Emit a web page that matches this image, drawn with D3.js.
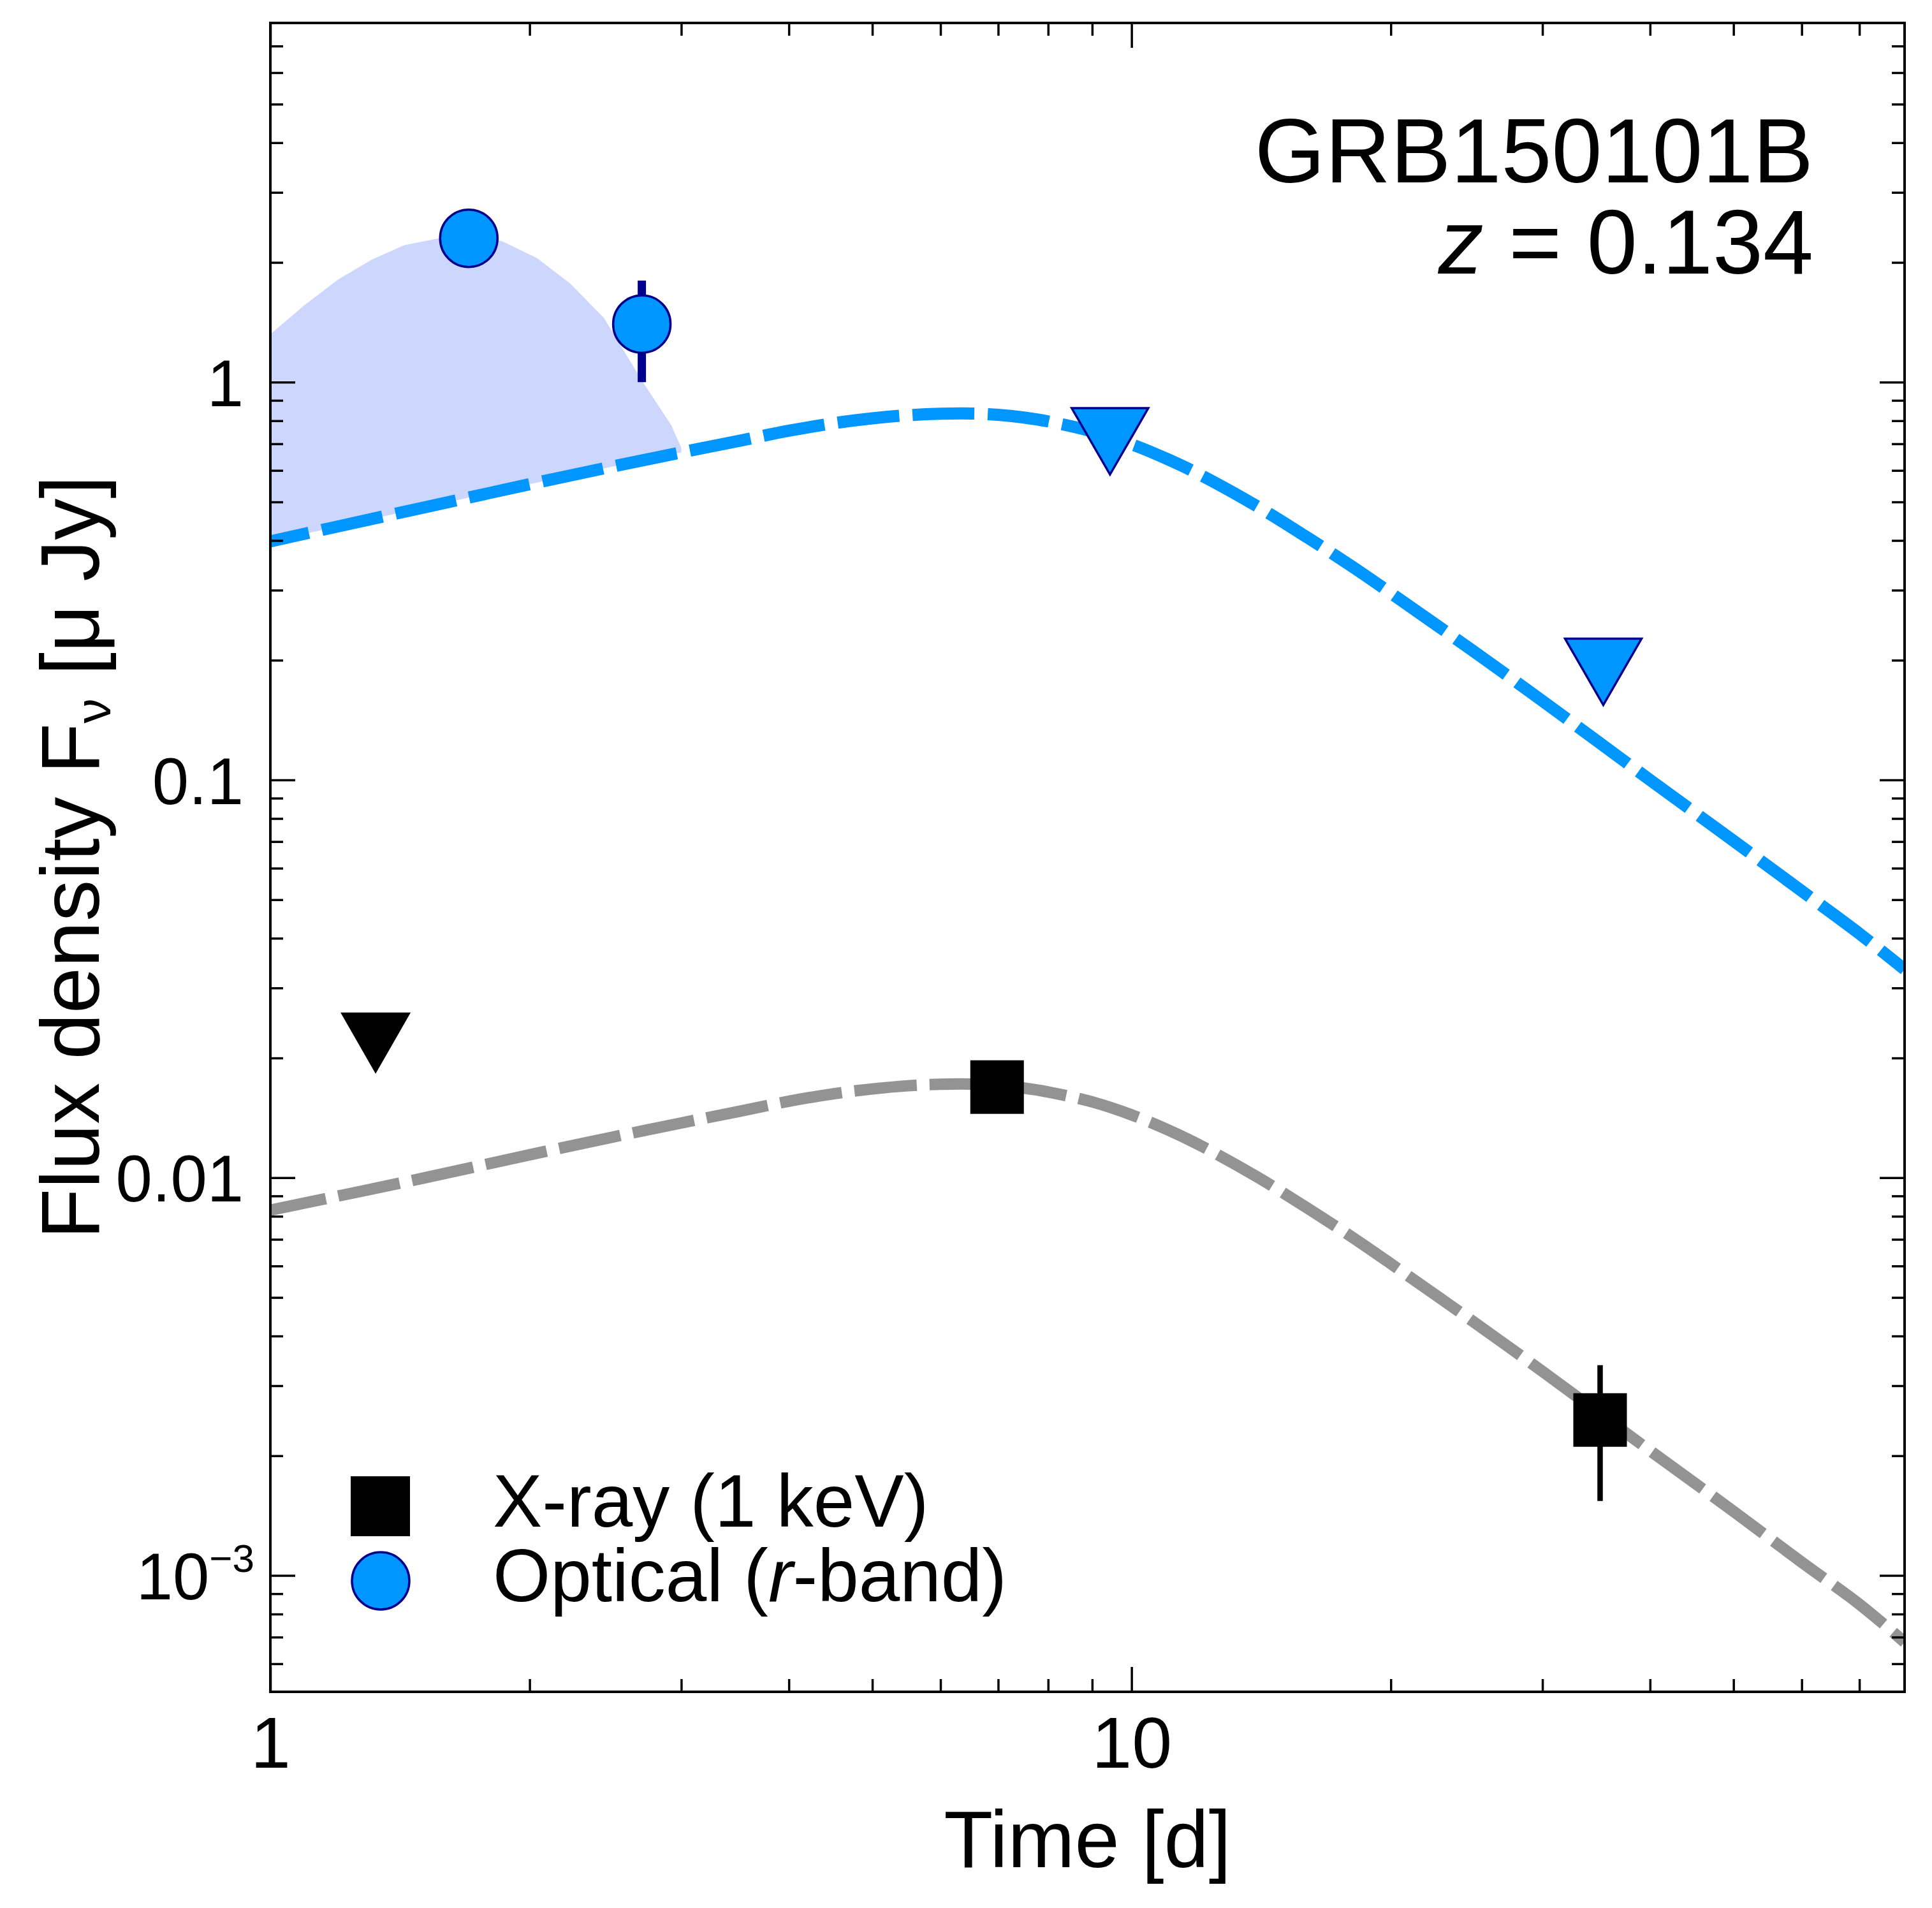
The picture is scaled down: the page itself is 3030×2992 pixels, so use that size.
<!DOCTYPE html>
<html lang="en">
<head>
<meta charset="utf-8">
<script src="https://cdn.jsdelivr.net/npm/d3@7"></script>
<style>
  body { margin: 0; background: #fff; }
  svg { display: block; }
  text { font-family: "Liberation Sans", Arial, Helvetica, sans-serif; fill: #000; }
</style>
</head>
<body>
<svg id="chart" width="3030" height="2992"></svg>
<script>
// model curves (smoothed by eye)
const blueT = [1, 1.5, 2, 2.5, 3, 3.5, 4, 4.5, 5, 5.5, 6, 6.5, 7, 7.5, 8, 9, 10, 11, 12, 14, 16, 18, 20, 25, 30, 40, 50, 60, 70, 79];
const blueF = [0.398, 0.483, 0.554, 0.614, 0.666, 0.712, 0.755, 0.788, 0.811, 0.826, 0.833, 0.834, 0.828, 0.815, 0.797,
  0.752, 0.698, 0.641, 0.586, 0.487, 0.407, 0.345, 0.295, 0.210, 0.158, 0.100, 0.0703, 0.0526, 0.0411, 0.0334];
const grayT = [1, 1.5, 2, 2.5, 3, 3.5, 4, 4.5, 5, 5.5, 6, 6.5, 7, 7.5, 8, 9, 10, 11, 12, 14, 16, 18, 20, 25, 30, 40, 50, 60, 70, 79];
const grayF = [0.00829, 0.00996, 0.01142, 0.01266, 0.01373, 0.01468, 0.01557, 0.01625, 0.01672, 0.01703, 0.01718, 0.01720,
  0.01707, 0.01680, 0.01643, 0.01551, 0.01439, 0.01322, 0.01208, 0.01004, 0.00839, 0.00711, 0.00608, 0.00433, 0.00326,
  0.00206, 0.00145, 0.00108, 0.000847, 0.00068];

// upper edge of the shaded optical region
const bandT = [1.0, 1.095, 1.198, 1.31, 1.43, 1.70, 1.86, 2.04, 2.23, 2.44, 2.70, 2.92, 3.0];
const bandF = [1.32, 1.56, 1.81, 2.03, 2.21, 2.38, 2.26, 2.05, 1.77, 1.45, 1.01, 0.78, 0.685];

// optical r-band
const optT = [1.70, 2.70];
const optF = [2.30, 1.40];
const optLo = [null, 1.00];
const optHi = [null, 1.80];
const optUlT = [9.44, 35.3];
const optUlF = [0.71, 0.187];

// X-ray 1 keV
const xrT = [6.98, 35.0];
const xrF = [0.0169, 0.00246];
const xrLo = [null, 0.00154];
const xrHi = [null, 0.00338];
const xrUlT = [1.325];
const xrUlF = [0.0218];

// axes
const xMajor = [1, 10];
const xMinor = [2, 3, 4, 5, 6, 7, 8, 9, 20, 30, 40, 50, 60, 70];
const yMajor = [1, 0.1, 0.01, 0.001];
const yMinor = [6e-4, 7e-4, 8e-4, 9e-4, 2e-3, 3e-3, 4e-3, 5e-3, 6e-3, 7e-3, 8e-3, 9e-3,
  0.02, 0.03, 0.04, 0.05, 0.06, 0.07, 0.08, 0.09, 0.2, 0.3, 0.4, 0.5, 0.6, 0.7, 0.8, 0.9,
  2, 3, 4, 5, 6, 7];

const L = 424, R = 2987, T = 36, B = 2653;
const svg = d3.select('#chart');
svg.append('rect').attr('width', 3030).attr('height', 2992).attr('fill', '#fff');

const x = d3.scaleLog().domain([1, 79]).range([L, R]);
const y = d3.scaleLog().domain([5.1e-4, 8]).range([B, T]);

svg.append('clipPath').attr('id', 'plotclip')
  .append('rect').attr('x', L).attr('y', T).attr('width', R - L).attr('height', B - T);

const plot = svg.append('g').attr('clip-path', 'url(#plotclip)');

// shaded region: upper edge then back along the model line
const bandPts = bandT.map((t, i) => [t, bandF[i]]);
blueT.map((t, i) => [t, blueF[i]]).filter(p => p[0] <= 3).reverse().forEach(p => bandPts.push(p));
plot.append('path')
  .attr('d', d3.line().x(p => x(p[0])).y(p => y(p[1]))(bandPts) + 'Z')
  .attr('fill', '#cdd6fd');

const curve = d3.line().x(p => x(p[0])).y(p => y(p[1])).curve(d3.curveCatmullRom);

plot.append('path')
  .attr('d', curve(grayT.map((t, i) => [t, grayF[i]])))
  .attr('fill', 'none').attr('stroke', '#939393').attr('stroke-width', 18)
  .attr('stroke-dasharray', '98,20').attr('stroke-dashoffset', 9);

plot.append('path')
  .attr('d', curve(blueT.map((t, i) => [t, blueF[i]])))
  .attr('fill', 'none').attr('stroke', '#0096ff').attr('stroke-width', 19)
  .attr('stroke-dasharray', '97,21').attr('stroke-dashoffset', 35);

// error bars
optT.forEach((t, i) => {
  if (optLo[i] === null) return;
  svg.append('line').attr('x1', x(t)).attr('x2', x(t))
    .attr('y1', y(optLo[i])).attr('y2', y(optHi[i]))
    .attr('stroke', '#00008c').attr('stroke-width', 13);
});
xrT.forEach((t, i) => {
  if (xrLo[i] === null) return;
  svg.append('line').attr('x1', x(t)).attr('x2', x(t))
    .attr('y1', y(xrLo[i])).attr('y2', y(xrHi[i]))
    .attr('stroke', '#000').attr('stroke-width', 8.5);
});

const tri = (w, h) => `M${-w / 2},${-h / 2}L${w / 2},${-h / 2}L0,${h / 2}Z`;

// upper limits
svg.selectAll('.xul').data(xrUlT).enter().append('path')
  .attr('transform', (t, i) => `translate(${x(t)},${y(xrUlF[i])})`)
  .attr('d', tri(110, 96)).attr('fill', '#000');
svg.selectAll('.oul').data(optUlT).enter().append('path')
  .attr('transform', (t, i) => `translate(${x(t)},${y(optUlF[i])})`)
  .attr('d', tri(120, 104)).attr('fill', '#0096ff')
  .attr('stroke', '#00008c').attr('stroke-width', 3.5).attr('stroke-linejoin', 'miter');

// detections
svg.selectAll('.xr').data(xrT).enter().append('rect')
  .attr('x', t => x(t) - 42).attr('y', (t, i) => y(xrF[i]) - 42)
  .attr('width', 84).attr('height', 84).attr('fill', '#000');
svg.selectAll('.opt').data(optT).enter().append('circle')
  .attr('cx', t => x(t)).attr('cy', (t, i) => y(optF[i])).attr('r', 45)
  .attr('fill', '#0096ff').attr('stroke', '#00008c').attr('stroke-width', 3.5);

// axes
const tickStyle = g => {
  g.select('.domain').remove();
  g.selectAll('.tick line').attr('stroke', '#000').attr('stroke-width', 3.5);
};

svg.append('g').attr('transform', `translate(0,${B})`)
  .call(d3.axisBottom(x).tickValues(xMajor).tickSize(-39).tickPadding(39).tickFormat(d3.format('')))
  .call(tickStyle)
  .call(g => g.selectAll('text').attr('font-size', 113).attr('font-family', null));
svg.append('g').attr('transform', `translate(0,${B})`)
  .call(d3.axisBottom(x).tickValues(xMinor).tickSize(-20).tickFormat(''))
  .call(tickStyle);
svg.append('g').attr('transform', `translate(0,${T})`)
  .call(d3.axisBottom(x).tickValues(xMajor).tickSize(39).tickFormat(''))
  .call(tickStyle);
svg.append('g').attr('transform', `translate(0,${T})`)
  .call(d3.axisBottom(x).tickValues(xMinor).tickSize(20).tickFormat(''))
  .call(tickStyle);

svg.append('g').attr('transform', `translate(${L},0)`)
  .call(d3.axisLeft(y).tickValues(yMajor).tickSize(-39).tickPadding(42)
    .tickFormat(d => d >= 0.01 ? String(d) : ''))
  .call(tickStyle)
  .call(g => g.selectAll('text').attr('font-size', 103).attr('font-family', null).attr('dy', '0.36em'))
  .call(g => g.selectAll('.tick').filter(d => d < 0.01).select('text')
    .attr('x', -25)
    .call(t => {
      t.append('tspan').text('10');
      t.append('tspan').attr('font-size', 62).attr('dy', -43).text('\u22123');
    }));
svg.append('g').attr('transform', `translate(${L},0)`)
  .call(d3.axisLeft(y).tickValues(yMinor).tickSize(-20).tickFormat(''))
  .call(tickStyle);
svg.append('g').attr('transform', `translate(${R},0)`)
  .call(d3.axisLeft(y).tickValues(yMajor).tickSize(39).tickFormat(''))
  .call(tickStyle);
svg.append('g').attr('transform', `translate(${R},0)`)
  .call(d3.axisLeft(y).tickValues(yMinor).tickSize(20).tickFormat(''))
  .call(tickStyle);

svg.append('rect').attr('x', L).attr('y', T).attr('width', R - L).attr('height', B - T)
  .attr('fill', 'none').attr('stroke', '#000').attr('stroke-width', 4);

// axis titles
svg.append('text').attr('x', (L + R) / 2).attr('y', 2928).attr('text-anchor', 'middle')
  .attr('font-size', 126).text('Time [d]');

const yl = svg.append('text').attr('transform', `translate(155,${(T + B) / 2}) rotate(-90)`)
  .attr('text-anchor', 'middle').attr('font-size', 130);
yl.append('tspan').text('Flux density F');
yl.append('tspan').attr('font-size', 78).attr('dy', 18).text('\u03bd');
yl.append('tspan').attr('dy', -18).text(' [\u03bc Jy]');

// object label
svg.append('text').attr('x', 2844).attr('y', 286).attr('text-anchor', 'end')
  .attr('font-size', 142).text('GRB150101B');
const zl = svg.append('text').attr('x', 2844).attr('y', 429).attr('text-anchor', 'end')
  .attr('font-size', 142);
zl.append('tspan').attr('font-style', 'italic').text('z');
zl.append('tspan').text(' = 0.134');

// legend
const lg = svg.append('g');
lg.append('rect').attr('x', 550).attr('y', 2315).attr('width', 93).attr('height', 94).attr('fill', '#000');
lg.append('circle').attr('cx', 597).attr('cy', 2479).attr('r', 45)
  .attr('fill', '#0096ff').attr('stroke', '#00008c').attr('stroke-width', 3.5);
lg.append('text').attr('x', 773).attr('y', 2394).attr('font-size', 116).text('X-ray (1 keV)');
const lo = lg.append('text').attr('x', 773).attr('y', 2511).attr('font-size', 116);
lo.append('tspan').text('Optical (');
lo.append('tspan').attr('font-style', 'italic').text('r');
lo.append('tspan').text('-band)');
</script>
</body>
</html>
